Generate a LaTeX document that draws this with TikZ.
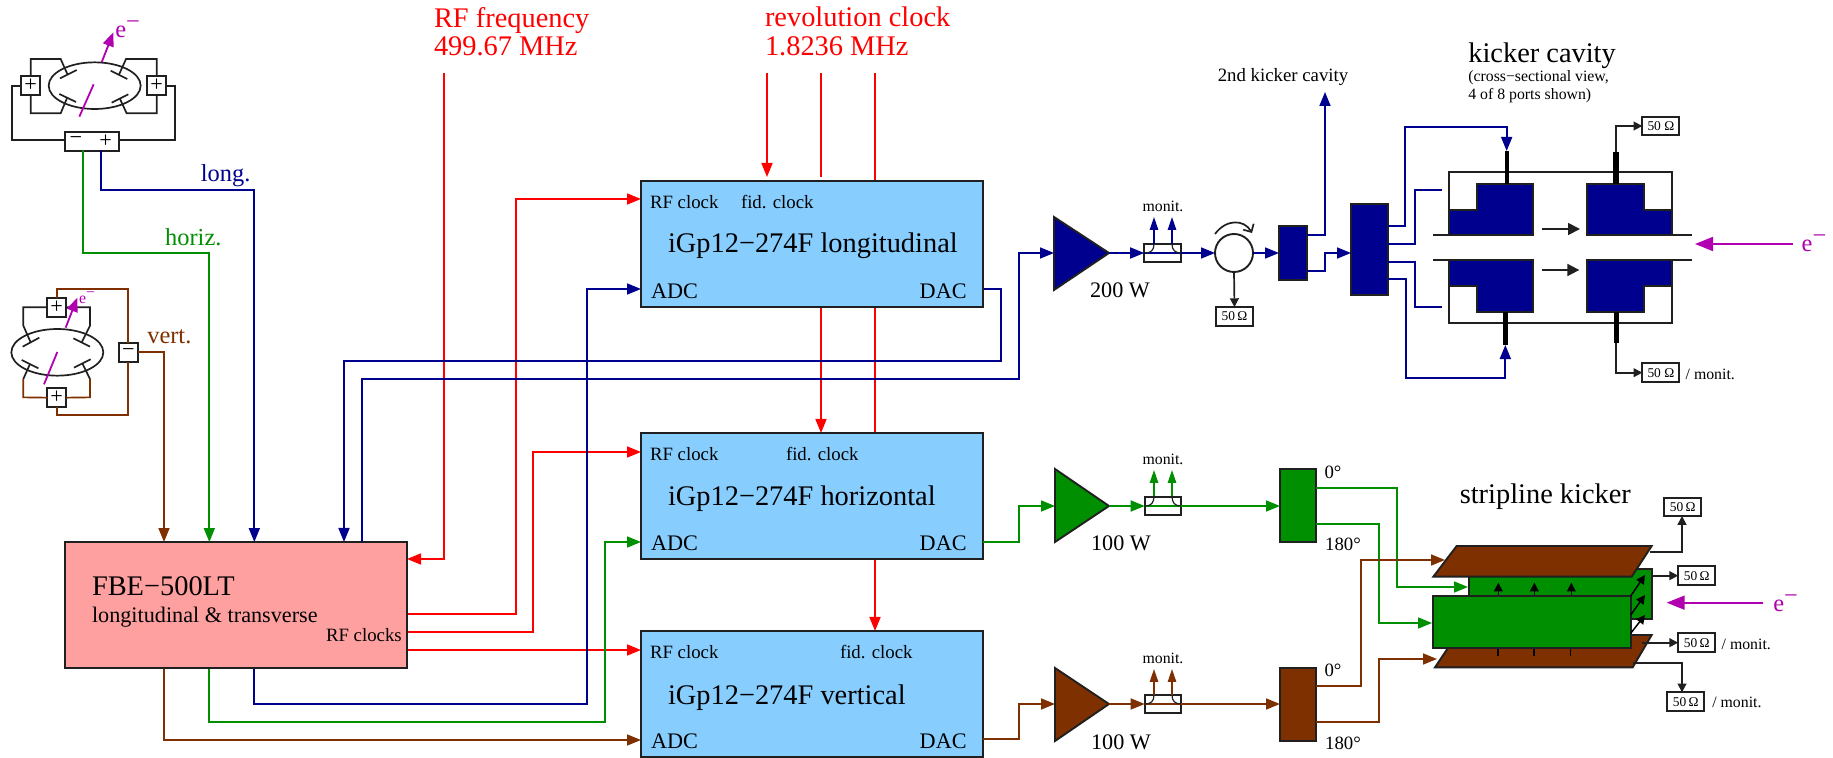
\documentclass[tikz,border=0pt]{standalone}
\usepackage{fontspec}
\setmainfont{Liberation Serif}
\usetikzlibrary{arrows.meta}
\definecolor{cblue}{HTML}{00008F}
\definecolor{cgreen}{HTML}{008F00}
\definecolor{cbrown}{HTML}{7F3000}
\definecolor{cred}{HTML}{FF0000}
\definecolor{cmag}{HTML}{B000B0}
\definecolor{cpink}{HTML}{FFA0A0}
\definecolor{csky}{HTML}{87CEFF}
\definecolor{cblk}{HTML}{202020}
\newcommand{\fA}{\fontsize{14.2}{16}\selectfont}
\newcommand{\fB}{\fontsize{12.2}{14}\selectfont}
\newcommand{\fC}{\fontsize{11.1}{13}\selectfont}
\newcommand{\fD}{\fontsize{9.4}{11}\selectfont}
\newcommand{\fE}{\fontsize{7.9}{9}\selectfont}
\newcommand{\fF}{\fontsize{6.7}{8}\selectfont}
\newcommand{\emin}{e\raisebox{.34em}{−}}
\tikzset{
  wire/.style={line width=.85pt,line join=miter},
  blw/.style={wire,draw=cblue},
  grw/.style={wire,draw=cgreen},
  brw/.style={wire,draw=cbrown},
  rdw/.style={wire,draw=cred},
  bkw/.style={wire,draw=cblk},
  mgw/.style={line width=.9pt,draw=cmag},
  tip/.style={-{Triangle[length=7pt,width=5.5pt]}},
  mtip/.style={-{Triangle[length=6.5pt,width=4.2pt]}},
  stip/.style={-{Triangle[length=4.4pt,width=4.4pt]}},
  outl/.style={draw=cblk,line width=.95pt,line join=miter},
  igp/.style={outl,fill=csky,minimum width=171pt,minimum height=63pt,inner sep=0pt,outer sep=0pt},
  fbe/.style={outl,fill=cpink,minimum width=171pt,minimum height=63pt,inner sep=0pt,outer sep=0pt},
  tx/.style={inner sep=0pt,outer sep=0pt,anchor=base west},
  txc/.style={inner sep=0pt,outer sep=0pt,anchor=base},
  ohm/.style={outl,fill=white,minimum width=18.5pt,minimum height=9.4pt,inner sep=0pt,outer sep=0pt,font=\fF},
  coup/.style={outl,minimum width=18.3pt,minimum height=9.2pt,inner sep=0pt,outer sep=0pt},
  sgn/.style={outl,fill=white,minimum width=9.3pt,minimum height=9.3pt,inner sep=0pt,outer sep=0pt,font=\fC},
}
\begin{document}
\begin{tikzpicture}[x=.5pt,y=-.5pt]
\useasboundingbox (0,0) rectangle (1833,758);

% ---------- port coordinates
\coordinate (rfIn) at (444,73);
\coordinate (fbeRFin) at (407,559);
\coordinate (revA) at (767,73); \coordinate (revAe) at (767,177);
\coordinate (revB) at (821,73); \coordinate (revBe) at (821,177);
\coordinate (revC) at (875,73); \coordinate (revCe) at (875,181);
\coordinate (lfidS) at (821,307); \coordinate (hfidN) at (821,433);
\coordinate (lpassS) at (875,307); \coordinate (hpassN) at (875,433);
\coordinate (hpassS) at (875,559); \coordinate (vfidN) at (875,631);
\coordinate (fbeR1) at (407,614); \coordinate (fbeR2) at (407,632); \coordinate (fbeR3) at (407,650);
\coordinate (lRF) at (641,199); \coordinate (hRF) at (641,452); \coordinate (vRF) at (641,650);
\coordinate (lADC) at (641,289); \coordinate (hADC) at (641,542); \coordinate (vADC) at (641,740);
\coordinate (lDAC) at (983,289); \coordinate (hDAC) at (983,542); \coordinate (vDAC) at (983,739);
\coordinate (fbeInV) at (164,542); \coordinate (fbeInH) at (209,542); \coordinate (fbeInL) at (254,542);
\coordinate (fbeInD) at (344,542); \coordinate (fbeOutD) at (362,542);
\coordinate (fbeOutV) at (164,668); \coordinate (fbeOutH) at (209,668); \coordinate (fbeOutL) at (254,668);

% ---------- wires
\draw[rdw,tip] (rfIn) |- (fbeRFin);
\draw[rdw,tip] (revA) -- (revAe);
\draw[rdw] (revB) -- (revBe);
\draw[rdw] (revC) -- (revCe);
\draw[rdw,tip] (lfidS) -- (hfidN);
\draw[rdw] (lpassS) -- (hpassN);
\draw[rdw,tip] (hpassS) -- (vfidN);
\draw[rdw,tip] (fbeR1) -- (516,614) |- (lRF);
\draw[rdw,tip] (fbeR2) -- (533,632) |- (hRF);
\draw[rdw,tip] (fbeR3) -- (vRF);
\draw[blw,tip] (fbeOutL) -- (254,704) -- (587,704) |- (lADC);
\draw[grw,tip] (fbeOutH) -- (209,722) -- (605,722) |- (hADC);
\draw[brw,tip] (fbeOutV) |- (vADC);
\draw[blw,tip] (lDAC) -- (1001,289) -- (1001,361) -- (344,361) -- (fbeInD);

% ---------- iGp and FBE boxes
\node[igp] (igpL) at (812,244) {};
\node[igp] (igpH) at (812,496) {};
\node[igp] (igpV) at (812,694) {};
\node[fbe] (fbeB) at (236,605) {};

\node[tx,font=\fD] (tLrf) at (650,209) {RF clock};
\node[tx,font=\fD] (tLfid) at (741,209) {fid. clock};
\node[tx,font=\fA] (tLm) at (668,253) {iGp12−274F longitudinal};
\node[tx,font=\fC] (tLa) at (651,299) {ADC};
\node[anchor=base east,inner sep=0pt,font=\fC] (tLd) at (967,299) {DAC};
\node[tx,font=\fD] (tHrf) at (650,461) {RF clock};
\node[tx,font=\fD] (tHfid) at (786,461) {fid. clock};
\node[tx,font=\fA] (tHm) at (668,506) {iGp12−274F horizontal};
\node[tx,font=\fC] (tHa) at (651,551) {ADC};
\node[anchor=base east,inner sep=0pt,font=\fC] (tHd) at (967,551) {DAC};
\node[tx,font=\fD] (tVrf) at (650,659) {RF clock};
\node[tx,font=\fD] (tVfid) at (840,659) {fid. clock};
\node[tx,font=\fA] (tVm) at (668,705) {iGp12−274F vertical};
\node[tx,font=\fC] (tVa) at (651,749) {ADC};
\node[anchor=base east,inner sep=0pt,font=\fC] (tVd) at (967,749) {DAC};
\node[tx,font=\fA] (tF1) at (92,596) {FBE−500LT};
\node[tx,font=\fC] (tF2) at (92,623) {longitudinal \& transverse};
\node[tx,font=\fD] (tF3) at (326,642) {RF clocks};

\node[tx,font=\fA,text=cred] (tRF1) at (434,28) {RF frequency};
\node[tx,font=\fA,text=cred] (tRF2) at (434,56) {499.67 MHz};
\node[tx,font=\fA,text=cred] (tRv1) at (765,26.5) {revolution clock};
\node[tx,font=\fA,text=cred] (tRv2) at (765,56) {1.8236 MHz};

\draw[blw,tip] (fbeOutD) -- (362,379) -- (1019,379) -- (1019,253) -- (1054,253) coordinate (ampLin);

% ---------- longitudinal amplifier chain
\coordinate (ampLtip) at (1109,253);
\draw[outl,fill=cblue] (1054,217) -- (ampLtip) -- (1054,290) -- cycle;
\node[txc,font=\fC] (tw1) at (1120,298) {200 W};
\node[coup] (cpL) at (1162.5,253) {};
\draw[blw,tip] (ampLtip) -- (cpL.west);
\draw[blw] (cpL.west) -- (cpL.east);
\draw[bkw,line width=.6pt] (1145,253) .. controls (1151,253) and (1154,250) .. (1154,244) coordinate (cpLa);
\draw[bkw,line width=.6pt] (1181,253) .. controls (1175,253) and (1172,250) .. (1172,244) coordinate (cpLb);
\draw[blw,mtip] (cpLa) -- (1154,217);
\draw[blw,mtip] (cpLb) -- (1172,217);
\node[txc,font=\fE] (tmL) at (1163,212) {monit.};
\node[circle,outl,minimum size=19pt,inner sep=0pt,outer sep=0pt] (circ) at (1234,253) {};
\draw[blw,tip] (cpL.east) -- (circ.west);
\draw[bkw,-{Straight Barb[length=3pt,width=6pt]}] (1215,234) .. controls (1226,219) and (1244,219) .. (1252,233);
\node[ohm] (ohmC) at (1234.5,316.5) {50\,Ω};
\draw[bkw,stip] (circ.south) -- (ohmC.north);
\node[outl,fill=cblue,minimum width=14pt,minimum height=27pt,inner sep=0pt,outer sep=0pt] (splA) at (1293,253) {};
\draw[blw,tip] (circ.east) -- (splA.west);
\node[outl,fill=cblue,minimum width=18.5pt,minimum height=45.5pt,inner sep=0pt,outer sep=0pt] (splB) at (1369.5,249.5) {};
\coordinate (kick2) at (1325,92);
\draw[blw,tip] (1307,235) -| (kick2);
\draw[blw,tip] (1307,271) -- (1325,271) -- (1325,253) -- (1351,253);
\node[txc,font=\fD] (t2nd) at (1283,82) {2nd kicker cavity};

% ---------- cavity
\begin{scope}[shift={(1400,20)},x=.16667pt,y=-.16667pt]
\coordinate (cavTL) at (320,393);
\coordinate (cavBL) at (316,975);
\draw[blw,tip] (-36,618) -- (16,618) -- (16,320) -- (320,320) -- (cavTL);
\draw[blw] (-36,672) -- (44,672) -- (44,510) -- (125,510);
\draw[blw] (-36,726) -- (44,726) -- (44,861) -- (125,861);
\draw[blw,tip] (-36,777) -- (18,777) -- (18,1075) -- (316,1075) -- (cavBL);
\draw[outl] (147,645) -- (147,457) -- (815,457) -- (815,645);
\draw[outl] (147,720) -- (147,910) -- (815,910) -- (815,720);
\draw[outl,line width=1.1pt] (100,645) -- (400,645);
\draw[outl,line width=1.1pt] (562,645) -- (875,645);
\draw[outl,line width=1.1pt] (100,720) -- (400,720);
\draw[outl,line width=1.1pt] (562,720) -- (875,720);
\draw[outl,fill=cblue] (147,645) -- (147,570) -- (230,570) -- (230,493) -- (400,493) -- (400,645) -- cycle;
\draw[outl,fill=cblue] (562,645) -- (562,493) -- (732,493) -- (732,570) -- (815,570) -- (815,645) -- cycle;
\draw[outl,fill=cblue] (147,720) -- (400,720) -- (400,876) -- (230,876) -- (230,798) -- (147,798) -- cycle;
\draw[outl,fill=cblue] (562,720) -- (815,720) -- (815,798) -- (732,798) -- (732,876) -- (562,876) -- cycle;
\draw[black,line width=2.1pt] (320,393) -- (320,493);
\draw[black,line width=3pt] (647,395) -- (647,493);
\draw[black,line width=2.6pt] (316,876) -- (316,975);
\draw[black,line width=2.6pt] (649,876) -- (649,970);
\node[ohm] (ohmT) at (782.5,318) {50 Ω};
\node[ohm] (ohmB) at (782.5,1058) {50 Ω};
\draw[bkw,stip] (647,395) |- (ohmT.west);
\draw[bkw,stip] (647,970) |- (ohmB.west);
\draw[bkw,-{Triangle[length=6pt,width=6pt]}] (425,627) -- (540,627);
\draw[bkw,-{Triangle[length=6pt,width=6pt]}] (425,750) -- (538,750);
\draw[mgw,-{Triangle[length=9pt,width=7pt]}] (1178,672) -- (885,672);
\node[tx,font=\fB,text=cmag] (tEc) at (1205,695) {\emin};
\node[tx,font=\fA] (tK1) at (205,128) {kicker cavity};
\node[tx,font=\fE] (tK2) at (205,186) {(cross−sectional view,};
\node[tx,font=\fE] (tK3) at (205,240) {4 of 8 ports shown)};
\node[tx,font=\fE] (tK4) at (857,1078) {/ monit.};
\end{scope}

% ---------- horizontal chain
\draw[grw,tip] (hDAC) -- (1019,542) -- (1019,506) -- (1055,506);
\coordinate (ampHtip) at (1109,506);
\draw[outl,fill=cgreen] (1055,469) -- (ampHtip) -- (1055,542) -- cycle;
\node[txc,font=\fC] (tw2) at (1121,551) {100 W};
\node[coup] (cpH) at (1163,506) {};
\draw[grw,tip] (ampHtip) -- (cpH.west);
\draw[grw] (cpH.west) -- (cpH.east);
\draw[bkw,line width=.6pt] (1145,506) .. controls (1151,506) and (1154,503) .. (1154,496) coordinate (cpHa);
\draw[bkw,line width=.6pt] (1181,506) .. controls (1175,506) and (1172,503) .. (1172,496) coordinate (cpHb);
\draw[grw,mtip] (cpHa) -- (1154,470);
\draw[grw,mtip] (cpHb) -- (1172,470);
\node[txc,font=\fE] (tmH) at (1163,465) {monit.};
\node[outl,fill=cgreen,minimum width=18pt,minimum height=36.5pt,inner sep=0pt,outer sep=0pt] (splH) at (1298,505.5) {};
\draw[grw,tip] (cpH.east) -- (splH.west |- cpH.east);
\node[txc,font=\fD] (t0H) at (1333,479) {0°};
\node[txc,font=\fD] (t180H) at (1343,551) {180°};

% ---------- vertical chain
\draw[brw,tip] (vDAC) -- (1019,739) -- (1019,704) -- (1055,704);
\coordinate (ampVtip) at (1109,704);
\draw[outl,fill=cbrown] (1055,668) -- (ampVtip) -- (1055,741) -- cycle;
\node[txc,font=\fC] (tw3) at (1121,750) {100 W};
\node[coup] (cpV) at (1163,704) {};
\draw[brw,tip] (ampVtip) -- (cpV.west);
\draw[brw] (cpV.west) -- (cpV.east);
\draw[bkw,line width=.6pt] (1145,704) .. controls (1151,704) and (1154,701) .. (1154,695) coordinate (cpVa);
\draw[bkw,line width=.6pt] (1181,704) .. controls (1175,704) and (1172,701) .. (1172,695) coordinate (cpVb);
\draw[brw,mtip] (cpVa) -- (1154,669);
\draw[brw,mtip] (cpVb) -- (1172,669);
\node[txc,font=\fE] (tmV) at (1163,664) {monit.};
\node[outl,fill=cbrown,minimum width=18pt,minimum height=36.5pt,inner sep=0pt,outer sep=0pt] (splV) at (1298,704.5) {};
\draw[brw,tip] (cpV.east) -- (splV.west |- cpV.east);
\node[txc,font=\fD] (t0V) at (1333,677) {0°};
\node[txc,font=\fD] (t180V) at (1343,750) {180°};

% ---------- splitter outputs to the stripline
\coordinate (stripTL) at (1445,560);
\coordinate (stripBL) at (1437,659);
\coordinate (stripFL) at (1432,623);
\coordinate (stripBK) at (1468,587);
\coordinate (splHa) at (1316,488);
\coordinate (splHb) at (1316,524);
\coordinate (splVa) at (1316,686);
\coordinate (splVb) at (1316,722);
\draw[grw,tip] (splHa) -- (1397,488) |- (stripBK);
\draw[grw,tip] (splHb) -- (1379,524) |- (stripFL);
\draw[brw,tip] (splVa) -- (1361,686) |- (stripTL);
\draw[brw,tip] (splVb) -- (1379,722) |- (stripBL);

% ---------- stripline kicker
\begin{scope}[shift={(1400,470)},x=.16667pt,y=-.16667pt]
\draw[outl,fill=cbrown] (105,592) -- (170,495) -- (755,495) -- (698,592) -- cycle;
\draw[outl,fill=cgreen] (208,298) rectangle (757,447);
\draw[outl,fill=cbrown] (100,320) -- (170,228) -- (755,228) -- (695,320) -- cycle;
\foreach \ax in {295,403,514} \draw[black,line width=.75pt,stip] (\ax,378) -- (\ax,338);
\foreach \ax in {294,402,511} \draw[black,line width=.75pt] (\ax,533) -- (\ax,558);
\draw[outl,fill=cgreen] (100,378) rectangle (692,533);
\draw[black,line width=.75pt,stip] (692,378) -- (735,315);
\draw[black,line width=.75pt,stip] (692,435) -- (735,375);
\draw[black,line width=.75pt,stip] (692,490) -- (735,435);
\node[ohm] (ohmS1) at (848,111) {50\,Ω};
\node[ohm] (ohmS2) at (890,317) {50\,Ω};
\node[ohm] (ohmS3) at (890,518) {50\,Ω};
\node[ohm] (ohmS4) at (857,695) {50\,Ω};
\draw[bkw,stip] (750,246) -- (846,246) -- (846,138);
\draw[bkw,stip] (760,317) -- (ohmS2.west);
\draw[bkw,stip] (725,518) -- (ohmS3.west);
\draw[bkw,stip] (700,578) -- (846,578) -- (846,667);
\node[tx,font=\fE] (tS1) at (965,537) {/ monit.};
\node[tx,font=\fE] (tS2) at (937,712) {/ monit.};
\node[txc,font=\fA] (tS3) at (436,100) {stripline kicker};
\draw[mgw,-{Triangle[length=9pt,width=7pt]}] (1090,398) -- (800,398);
\node[tx,font=\fB,text=cmag] (tEs) at (1120,425) {\emin};
\end{scope}

% ---------- BPMs, in zoom coordinates (1/3 px)
\begin{scope}[x=.16667pt,y=-.16667pt]
\node[sgn] (pA) at (92,257) {+};
\node[sgn] (pB) at (470,257) {+};
\node[outl,fill=white,minimum width=27.2pt,minimum height=9.3pt,inner sep=0pt,outer sep=0pt] (sumA) at (276,424) {};
\node[inner sep=0pt,font=\fC] (sumAm) at (228,423) {−};
\node[inner sep=0pt,font=\fC] (sumAp) at (317,424) {+};
\draw[bkw] (284,257) ellipse [x radius=138,y radius=70];
\draw[bkw] (pA.north) -- (92,177) -- (182,177) -- (202,222);
\draw[bkw] (180,235) -- (230,210);
\draw[bkw] (pA.south) -- (92,340) -- (182,340) -- (202,292);
\draw[bkw] (178,282) -- (228,306);
\draw[bkw] (pB.north) -- (470,177) -- (378,177) -- (357,224);
\draw[bkw] (332,212) -- (382,237);
\draw[bkw] (pB.south) -- (470,340) -- (380,340) -- (360,297);
\draw[bkw] (335,308) -- (385,283);
\draw[bkw] (pA.west) -- (37,257) -- (37,420) -- (195,420);
\draw[bkw] (pB.east) -- (524,257) -- (524,420) -- (358,420);
\draw[mgw] (238,350) -- (281,253);
\draw[mgw,-{Triangle[length=7pt,width=5.5pt]}] (305,187) -- (340,97);
\node[tx,font=\fB,text=cmag] (tEa) at (346,113) {\emin};

\coordinate (sumAg) at (250,451);
\coordinate (sumAb) at (304,451);
\draw[blw,tip] (sumAb) -- (304,570) -- (763,570) -- (763,1626);
\draw[grw,tip] (sumAg) -- (250,760) -- (628,760) -- (628,1626);
\node[txc,font=\fB,text=cblue] (tLong) at (677,545) {long.};
\node[txc,font=\fB,text=cgreen] (tHor) at (580,737) {horiz.};
\node[txc,font=\fB,text=cbrown] (tVer) at (508,1030) {vert.};

\node[sgn] (pC) at (170,922) {+};
\node[sgn] (pD) at (170,1193) {+};
\node[sgn] (mC) at (385,1057) {−};
\draw[bkw] (172,1057) ellipse [x radius=138,y radius=70];
\draw[bkw] (pC.west) -- (70,922) -- (70,977) -- (92,1027);
\draw[bkw] (68,1040) -- (118,1013);
\draw[bkw] (pC.east) -- (270,922) -- (270,977) -- (245,1027);
\draw[bkw] (220,1015) -- (270,1040);
\draw[bkw] (90,1092) -- (70,1137);
\draw[bkw] (65,1080) -- (115,1105);
\draw[bkw] (247,1090) -- (270,1137);
\draw[bkw] (222,1103) -- (272,1078);
\draw[brw] (70,1137) -- (70,1192) -- (pD.west);
\draw[brw] (270,1137) -- (270,1192) -- (pD.east);
\draw[brw] (pC.north) -- (170,867) -- (385,867) -- (mC.north);
\draw[brw] (pD.south) -- (170,1246) -- (385,1246) -- (mC.south);
\draw[brw,tip] (mC.east) -- (492,1057) -- (492,1626);
\draw[mgw] (132,1153) -- (172,1056);
\draw[mgw,-{Triangle[length=7pt,width=5.5pt]}] (197,983) -- (232,893);
\node[tx,font=\fE,text=cmag] (tEb) at (237,910) {\emin};
\end{scope}
\end{tikzpicture}
\end{document}
